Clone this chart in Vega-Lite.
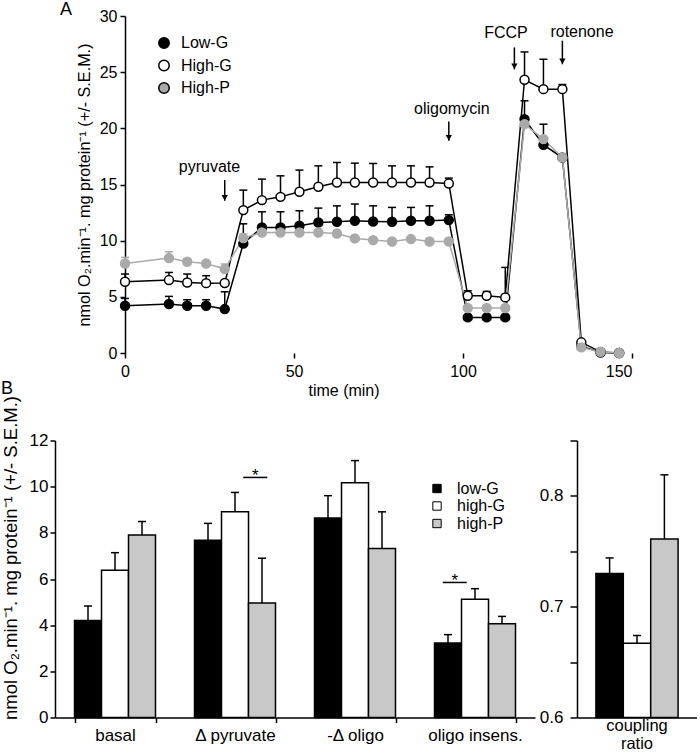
{
  "$schema": "https://vega.github.io/schema/vega-lite/v6.json",
  "padding": {"left": 1, "top": 0, "right": 0, "bottom": 0},
  "config": {
    "font": "Liberation Sans",
    "view": {"stroke": null},
    "axis": {"domainColor": "#000", "tickColor": "#000", "labelColor": "#000", "titleColor": "#000", "domainWidth": 1.5, "tickWidth": 1.5, "grid": false, "titleFontWeight": "normal", "labelFont": "Liberation Sans", "titleFont": "Liberation Sans"},
    "legend": {"labelFont": "Liberation Sans", "labelColor": "#000"},
    "text": {"font": "Liberation Sans", "color": "#000"}
  },
  "datasets": {
    "a": [
      {"series": "Low-G", "t": 0, "v": 4.21, "hi": 4.86},
      {"series": "Low-G", "t": 13, "v": 4.36, "hi": 5.04},
      {"series": "Low-G", "t": 18.4, "v": 4.21, "hi": 4.74},
      {"series": "Low-G", "t": 24, "v": 4.21, "hi": 4.74},
      {"series": "Low-G", "t": 29.5, "v": 3.91, "hi": 5.45},
      {"series": "Low-G", "t": 35, "v": 9.75, "hi": 11.5},
      {"series": "Low-G", "t": 40.5, "v": 11.18, "hi": 12.57},
      {"series": "Low-G", "t": 46, "v": 11.18, "hi": 12.57},
      {"series": "Low-G", "t": 51.6, "v": 11.33, "hi": 12.66},
      {"series": "Low-G", "t": 57.2, "v": 11.62, "hi": 12.9},
      {"series": "Low-G", "t": 62.7, "v": 11.68, "hi": 13.1},
      {"series": "Low-G", "t": 68, "v": 11.77, "hi": 13.26},
      {"series": "Low-G", "t": 73.4, "v": 11.71, "hi": 13.1},
      {"series": "Low-G", "t": 79, "v": 11.68, "hi": 12.96},
      {"series": "Low-G", "t": 84.6, "v": 11.77, "hi": 12.96},
      {"series": "Low-G", "t": 90.1, "v": 11.77, "hi": 13.1},
      {"series": "Low-G", "t": 95.8, "v": 11.83, "hi": 12.3},
      {"series": "Low-G", "t": 101.4, "v": 3.17},
      {"series": "Low-G", "t": 107, "v": 3.17},
      {"series": "Low-G", "t": 112.5, "v": 3.17},
      {"series": "Low-G", "t": 118.2, "v": 20.82, "hi": 22.45},
      {"series": "Low-G", "t": 123.8, "v": 18.53, "hi": 20.37},
      {"series": "Low-G", "t": 129.4, "v": 17.4},
      {"series": "Low-G", "t": 135, "v": 0.6},
      {"series": "Low-G", "t": 140.7, "v": 0.05},
      {"series": "Low-G", "t": 146.2, "v": 0},
      {"series": "High-G", "t": 0, "v": 6.34, "hi": 7.03},
      {"series": "High-G", "t": 13, "v": 6.49, "hi": 7.17},
      {"series": "High-G", "t": 18.4, "v": 6.28, "hi": 7.03},
      {"series": "High-G", "t": 24, "v": 6.22, "hi": 6.88},
      {"series": "High-G", "t": 29.5, "v": 6.23},
      {"series": "High-G", "t": 35, "v": 12.72, "hi": 14.5},
      {"series": "High-G", "t": 40.5, "v": 13.61, "hi": 15.48},
      {"series": "High-G", "t": 46, "v": 13.9, "hi": 15.77},
      {"series": "High-G", "t": 51.6, "v": 14.35, "hi": 16.28},
      {"series": "High-G", "t": 57.2, "v": 14.8, "hi": 16.66},
      {"series": "High-G", "t": 62.7, "v": 15.18, "hi": 16.96},
      {"series": "High-G", "t": 68, "v": 15.18, "hi": 16.9},
      {"series": "High-G", "t": 73.4, "v": 15.18, "hi": 16.87},
      {"series": "High-G", "t": 79, "v": 15.18, "hi": 16.66},
      {"series": "High-G", "t": 84.6, "v": 15.18, "hi": 16.66},
      {"series": "High-G", "t": 90.1, "v": 15.18, "hi": 16.57},
      {"series": "High-G", "t": 95.8, "v": 15.09, "hi": 15.57},
      {"series": "High-G", "t": 101.4, "v": 5.1, "hi": 5.54},
      {"series": "High-G", "t": 107, "v": 5.1, "hi": 5.48},
      {"series": "High-G", "t": 112.5, "v": 4.95, "hi": 7.62},
      {"series": "High-G", "t": 118.2, "v": 24.32, "hi": 26.8},
      {"series": "High-G", "t": 123.8, "v": 23.49, "hi": 26.15},
      {"series": "High-G", "t": 129.4, "v": 23.49, "hi": 23.9},
      {"series": "High-G", "t": 135, "v": 0.95},
      {"series": "High-G", "t": 140.7, "v": 0.1},
      {"series": "High-G", "t": 146.2, "v": 0},
      {"series": "High-P", "t": 0, "v": 7.97, "hi": 8.51},
      {"series": "High-P", "t": 13, "v": 8.45, "hi": 9.01},
      {"series": "High-P", "t": 18.4, "v": 8.12, "hi": 8.35},
      {"series": "High-P", "t": 24, "v": 7.97, "hi": 8.2},
      {"series": "High-P", "t": 29.5, "v": 7.47, "hi": 7.92},
      {"series": "High-P", "t": 35, "v": 10.23, "hi": 10.6},
      {"series": "High-P", "t": 40.5, "v": 10.73},
      {"series": "High-P", "t": 46, "v": 10.73},
      {"series": "High-P", "t": 51.6, "v": 10.73},
      {"series": "High-P", "t": 57.2, "v": 10.73},
      {"series": "High-P", "t": 62.7, "v": 10.64},
      {"series": "High-P", "t": 68, "v": 10.2},
      {"series": "High-P", "t": 73.4, "v": 10.05},
      {"series": "High-P", "t": 79, "v": 9.93},
      {"series": "High-P", "t": 84.6, "v": 10.14},
      {"series": "High-P", "t": 90.1, "v": 9.93},
      {"series": "High-P", "t": 95.8, "v": 9.93},
      {"series": "High-P", "t": 101.4, "v": 4.0},
      {"series": "High-P", "t": 107, "v": 4.0},
      {"series": "High-P", "t": 112.5, "v": 4.0},
      {"series": "High-P", "t": 118.2, "v": 20.37},
      {"series": "High-P", "t": 123.8, "v": 19.04},
      {"series": "High-P", "t": 129.4, "v": 17.4},
      {"series": "High-P", "t": 135, "v": 0.5},
      {"series": "High-P", "t": 140.7, "v": 0.1},
      {"series": "High-P", "t": 146.2, "v": 0}
    ],
    "ann": [
      {"label": "pyruvate", "tx": 25, "ty": 16.6, "ax": 29.5, "top": 15.4, "tip": 13.55},
      {"label": "oligomycin", "tx": 96.7, "ty": 21.7, "ax": 95.8, "top": 20.6, "tip": 18.9},
      {"label": "FCCP", "tx": 112.7, "ty": 28.5, "ax": 115.2, "top": 27.2, "tip": 25.25},
      {"label": "rotenone", "tx": 135.2, "ty": 28.6, "ax": 129.4, "top": 27.8, "tip": 25.7}
    ],
    "letters": [
      {"lab": "A", "tx": -17.5, "ty": 30.54},
      {"lab": "B", "tx": -34.9, "ty": -3.18}
    ],
    "b": [
      {"cat": "basal", "grp": "low-G", "v": 4.2, "hi": 4.83},
      {"cat": "basal", "grp": "high-G", "v": 6.38, "hi": 7.14},
      {"cat": "basal", "grp": "high-P", "v": 7.91, "hi": 8.49},
      {"cat": "Δ pyruvate", "grp": "low-G", "v": 7.68, "hi": 8.41},
      {"cat": "Δ pyruvate", "grp": "high-G", "v": 8.91, "hi": 9.75},
      {"cat": "Δ pyruvate", "grp": "high-P", "v": 4.96, "hi": 6.9},
      {"cat": "-Δ oligo", "grp": "low-G", "v": 8.64, "hi": 9.61},
      {"cat": "-Δ oligo", "grp": "high-G", "v": 10.17, "hi": 11.13},
      {"cat": "-Δ oligo", "grp": "high-P", "v": 7.32, "hi": 8.91},
      {"cat": "oligo insens.", "grp": "low-G", "v": 3.23, "hi": 3.59},
      {"cat": "oligo insens.", "grp": "high-G", "v": 5.12, "hi": 5.58},
      {"cat": "oligo insens.", "grp": "high-P", "v": 4.06, "hi": 4.38}
    ],
    "sig": [
      {"cat": "Δ pyruvate", "pos": "b", "y": 10.4},
      {"cat": "oligo insens.", "pos": "a", "y": 5.85}
    ],
    "ratio": [
      {"cat": "coupling ratio", "grp": "low-G", "v": 0.73, "hi": 0.744},
      {"cat": "coupling ratio", "grp": "high-G", "v": 0.667, "hi": 0.674},
      {"cat": "coupling ratio", "grp": "high-P", "v": 0.761, "hi": 0.819}
    ]
  },
  "spacing": -2.5,
  "resolve": {"scale": {"fill": "independent", "stroke": "independent"}, "legend": {"fill": "independent", "stroke": "independent"}},
  "vconcat": [
    {
      "width": 577,
      "height": 337,
      "layer": [
        {
          "mark": {"type": "rule", "color": "#000", "strokeWidth": 1.5},
          "encoding": {"x": {"datum": 0, "type": "quantitative"}, "x2": {"datum": 150}, "y": {"datum": 0, "type": "quantitative"}}
        },
        {
          "data": {"name": "a"},
          "transform": [{"filter": "isValid(datum.hi)"}],
          "mark": {"type": "rule", "strokeWidth": 1.5},
          "encoding": {
            "x": {"field": "t", "type": "quantitative"},
            "y": {"field": "v", "type": "quantitative"},
            "y2": {"field": "hi"},
            "stroke": {"field": "series", "type": "nominal", "legend": null}
          }
        },
        {
          "data": {"name": "a"},
          "transform": [{"filter": "isValid(datum.hi)"}],
          "mark": {"type": "point", "shape": "stroke", "size": 64, "strokeWidth": 1.5, "opacity": 1},
          "encoding": {
            "x": {"field": "t", "type": "quantitative"},
            "y": {"field": "hi", "type": "quantitative"},
            "stroke": {"field": "series", "type": "nominal", "legend": null}
          }
        },
        {
          "data": {"name": "a"},
          "mark": {"type": "line", "strokeWidth": 1.5},
          "encoding": {
            "x": {"field": "t", "type": "quantitative", "scale": {"domain": [-20.72, 150], "nice": false, "zero": false},
              "axis": {"values": [0, 50, 100, 150], "title": "time (min)", "domain": false, "labelFontSize": 16, "titleFontSize": 16, "tickSize": 5, "labelPadding": 5, "titlePadding": 3}},
            "y": {"field": "v", "type": "quantitative", "scale": {"domain": [0, 30], "nice": false},
              "axis": {"values": [0, 5, 10, 15, 20, 25, 30], "offset": -70, "title": "nmol O₂.min⁻¹. mg protein⁻¹ (+/- S.E.M.)", "titleFontSize": 16.2, "labelFontSize": 16, "tickSize": 5, "labelPadding": 3, "titlePadding": 7}},
            "stroke": {"field": "series", "type": "nominal", "scale": {"domain": ["High-P", "Low-G", "High-G"], "range": ["#aaaaaa", "#000000", "#000000"]}, "legend": null}
          }
        },
        {
          "data": {"name": "a"},
          "mark": {"type": "point", "shape": "circle", "size": 80, "strokeWidth": 1.5, "opacity": 1, "fillOpacity": 1},
          "encoding": {
            "x": {"field": "t", "type": "quantitative"},
            "y": {"field": "v", "type": "quantitative"},
            "fill": {"field": "series", "type": "nominal", "scale": {"domain": ["Low-G", "High-G", "High-P"], "range": ["#000000", "#ffffff", "#aaaaaa"]},
              "legend": {"orient": "none", "legendX": 101, "legendY": 19, "title": null, "symbolType": "circle", "symbolSize": 110, "symbolStrokeWidth": 1.5, "symbolStrokeColor": "#000", "labelFontSize": 16, "rowPadding": 4.5, "labelOffset": 9,
                "encode": {"symbols": {"update": {"stroke": {"signal": "datum.value == 'High-P' ? '#aaaaaa' : '#000000'"}, "strokeWidth": {"value": 1.5}}}}}},
            "stroke": {"field": "series", "type": "nominal", "legend": null}
          }
        },
        {
          "data": {"name": "ann"},
          "mark": {"type": "rule", "color": "#000", "strokeWidth": 1.5},
          "encoding": {"x": {"field": "ax", "type": "quantitative"}, "y": {"field": "top", "type": "quantitative"}, "y2": {"field": "tip"}}
        },
        {
          "data": {"name": "ann"},
          "mark": {"type": "point", "shape": "triangle-down", "size": 40, "filled": true, "color": "#000", "opacity": 1, "yOffset": -3},
          "encoding": {"x": {"field": "ax", "type": "quantitative"}, "y": {"field": "tip", "type": "quantitative"}}
        },
        {
          "data": {"name": "ann"},
          "mark": {"type": "text", "fontSize": 16, "align": "center", "baseline": "middle"},
          "encoding": {"x": {"field": "tx", "type": "quantitative"}, "y": {"field": "ty", "type": "quantitative"}, "text": {"field": "label"}}
        },
        {
          "data": {"name": "letters"},
          "mark": {"type": "text", "fontSize": 18, "align": "center", "baseline": "middle"},
          "encoding": {"x": {"field": "tx", "type": "quantitative"}, "y": {"field": "ty", "type": "quantitative"}, "text": {"field": "lab"}}
        }
      ]
    },
    {
      "spacing": 4,
      "resolve": {"scale": {"fill": "independent", "xOffset": "independent"}, "legend": {"fill": "independent"}},
      "hconcat": [
        {
          "width": 480,
          "height": 277,
          "resolve": {"scale": {"xOffset": "independent"}},
          "layer": [
            {
              "data": {"name": "b"},
              "mark": {"type": "bar", "stroke": "#000", "strokeWidth": 1.5},
              "encoding": {
                "x": {"field": "cat", "type": "nominal", "sort": null, "scale": {"paddingInner": 0.325, "paddingOuter": 0.1625},
                  "axis": {"title": null, "labelAngle": 0, "labelFontSize": 17, "tickBand": "extent", "tickSize": 5, "labelPadding": 5}},
                "xOffset": {"field": "grp", "type": "nominal", "sort": null},
                "y": {"field": "v", "type": "quantitative", "scale": {"domain": [0, 12], "nice": false},
                  "axis": {"values": [0, 2, 4, 6, 8, 10, 12], "title": "nmol O₂.min⁻¹. mg protein⁻¹ (+/- S.E.M.)", "titleFontSize": 18.5, "titleY": 117, "labelFontSize": 17, "tickSize": 5, "labelPadding": 2, "titlePadding": 9}},
                "fill": {"field": "grp", "type": "nominal", "scale": {"domain": ["low-G", "high-G", "high-P"], "range": ["#000000", "#ffffff", "#c8c8c8"]},
                  "legend": {"orient": "none", "legendX": 374, "legendY": 40, "title": null, "symbolType": "square", "symbolSize": 70, "symbolStrokeColor": "#000", "symbolStrokeWidth": 1, "labelFontSize": 16, "rowPadding": 1.5, "labelOffset": 12}}
              }
            },
            {
              "data": {"name": "b"},
              "mark": {"type": "rule", "color": "#000", "strokeWidth": 1.5},
              "encoding": {
                "x": {"field": "cat", "type": "nominal", "sort": null},
                "xOffset": {"field": "grp", "type": "nominal", "sort": null},
                "y": {"field": "v", "type": "quantitative"},
                "y2": {"field": "hi"}
              }
            },
            {
              "data": {"name": "b"},
              "mark": {"type": "point", "shape": "stroke", "size": 64, "color": "#000", "strokeWidth": 1.5, "opacity": 1},
              "encoding": {
                "x": {"field": "cat", "type": "nominal", "sort": null},
                "xOffset": {"field": "grp", "type": "nominal", "sort": null},
                "y": {"field": "hi", "type": "quantitative"}
              }
            },
            {
              "data": {"name": "sig"},
              "mark": {"type": "point", "shape": "stroke", "size": 576, "color": "#000", "strokeWidth": 1.5, "opacity": 1},
              "encoding": {
                "x": {"field": "cat", "type": "nominal", "sort": null},
                "xOffset": {"field": "pos", "type": "nominal", "scale": {"domain": ["a", "b"], "paddingInner": 0, "paddingOuter": 0.5, "align": 0.5}},
                "y": {"field": "y", "type": "quantitative"}
              }
            },
            {
              "data": {"name": "sig"},
              "mark": {"type": "text", "text": "*", "fontSize": 17, "baseline": "alphabetic", "align": "center", "dy": 4},
              "encoding": {
                "x": {"field": "cat", "type": "nominal", "sort": null},
                "xOffset": {"field": "pos", "type": "nominal", "scale": {"domain": ["a", "b"], "paddingInner": 0, "paddingOuter": 0.5, "align": 0.5}},
                "y": {"field": "y", "type": "quantitative"}
              }
            }
          ]
        },
        {
          "width": 120,
          "height": 277,
          "data": {"name": "ratio"},
          "layer": [
            {
              "mark": {"type": "bar", "stroke": "#000", "strokeWidth": 1.5},
              "encoding": {
                "x": {"field": "cat", "type": "nominal", "scale": {"paddingInner": 0, "paddingOuter": 0.23},
                  "axis": {"title": null, "labelAngle": 0, "labelFontSize": 16.5, "ticks": false, "tickSize": 0, "labelPadding": 0, "labelExpr": "split(datum.label, ' ')", "labelLineHeight": 18}},
                "xOffset": {"field": "grp", "type": "nominal", "sort": null},
                "y": {"field": "v", "type": "quantitative", "scale": {"domain": [0.6, 0.85], "nice": false, "zero": false},
                  "axis": {"values": [0.6, 0.65, 0.7, 0.75, 0.8, 0.85], "labelExpr": "(round(datum.value * 100) % 10 == 0) ? format(datum.value, '.1f') : ''", "title": null, "tickSize": 7, "labelPadding": 7, "labelFontSize": 17}},
                "y2": {"datum": 0.6},
                "fill": {"field": "grp", "type": "nominal", "scale": {"domain": ["low-G", "high-G", "high-P"], "range": ["#000000", "#ffffff", "#c8c8c8"]}, "legend": null}
              }
            },
            {
              "mark": {"type": "rule", "color": "#000", "strokeWidth": 1.5},
              "encoding": {
                "x": {"field": "cat", "type": "nominal"},
                "xOffset": {"field": "grp", "type": "nominal", "sort": null},
                "y": {"field": "v", "type": "quantitative"},
                "y2": {"field": "hi"}
              }
            },
            {
              "mark": {"type": "point", "shape": "stroke", "size": 64, "color": "#000", "strokeWidth": 1.5, "opacity": 1},
              "encoding": {
                "x": {"field": "cat", "type": "nominal"},
                "xOffset": {"field": "grp", "type": "nominal", "sort": null},
                "y": {"field": "hi", "type": "quantitative"}
              }
            }
          ]
        }
      ]
    }
  ]
}
